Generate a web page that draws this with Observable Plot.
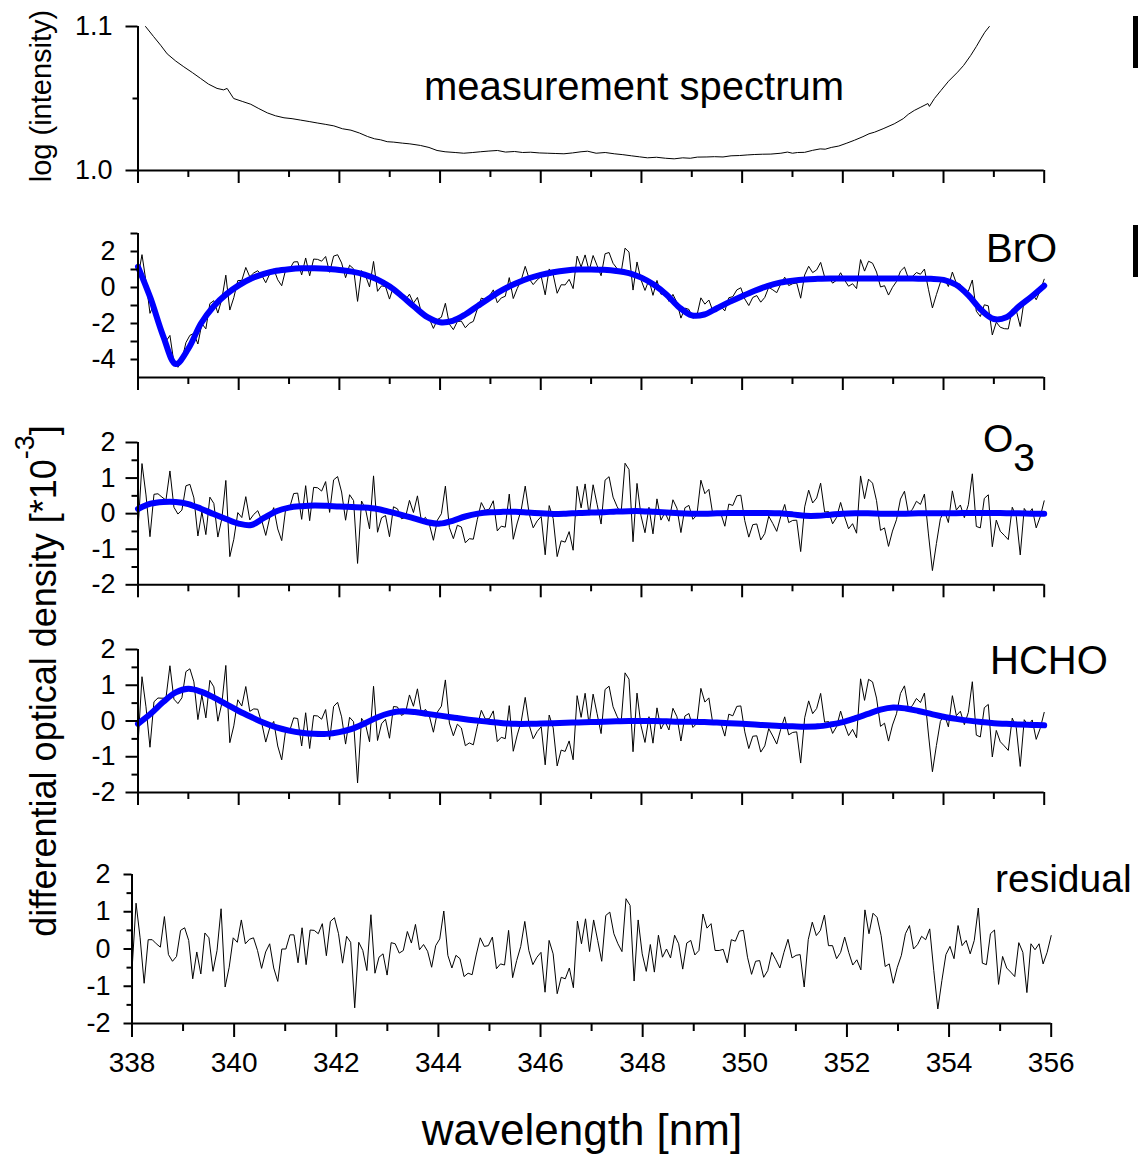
<!DOCTYPE html>
<html><head><meta charset="utf-8">
<script src="https://cdn.jsdelivr.net/npm/d3@7"></script>
<script src="https://cdn.jsdelivr.net/npm/@observablehq/plot@0.6"></script>
<style>
body{margin:0;background:#fff;}
#chart{position:relative;width:1138px;height:1157px;overflow:hidden;font-family:"Liberation Sans",Arial,sans-serif;background:#fff;}
#chart svg{position:absolute;left:0;overflow:visible;}
</style></head><body><div id="chart"></div>
<script>
// ---------- data ----------
const wavelengthRange = [338, 356];
const xTicksMajor = [338, 340, 342, 344, 346, 348, 350, 352, 354, 356];
const xTicksMinor = [339, 341, 343, 345, 347, 349, 351, 353, 355];

// measurement spectrum (log intensity)
const spectrumWavelength = [338.15,338.31,338.45,338.58,338.75,338.91,339.08,339.24,339.40,339.57,339.70,339.77,339.90,340.07,340.24,340.40,340.57,340.73,340.90,341.06,341.23,341.40,341.56,341.73,341.89,342.06,342.23,342.40,342.56,342.70,342.82,342.95,343.08,343.25,343.40,343.61,343.78,343.94,344.10,344.30,344.47,344.65,344.80,344.97,345.14,345.30,345.48,345.64,345.80,345.97,346.14,346.30,346.46,346.63,346.80,346.93,347.10,347.28,347.46,347.63,347.80,347.96,348.12,348.30,348.48,348.65,348.82,348.97,349.11,349.30,349.45,349.62,349.78,349.95,350.10,350.24,350.40,350.57,350.77,350.90,351.00,351.10,351.24,351.40,351.55,351.65,351.77,351.92,352.08,352.23,352.40,352.52,352.63,352.80,353.02,353.20,353.30,353.42,353.55,353.69,353.72,353.82,353.95,354.10,354.28,354.40,354.54,354.65,354.74,354.82,354.91];
const spectrumLogIntensity = [1.100,1.093,1.087,1.081,1.076,1.072,1.068,1.064,1.060,1.057,1.056,1.057,1.050,1.048,1.046,1.043,1.040,1.038,1.0366,1.036,1.035,1.034,1.033,1.032,1.031,1.029,1.028,1.026,1.0236,1.022,1.0213,1.020,1.0197,1.019,1.0185,1.0174,1.016,1.0139,1.013,1.0125,1.012,1.0125,1.013,1.0135,1.0139,1.0128,1.0132,1.0125,1.0127,1.0122,1.012,1.0118,1.0116,1.0122,1.013,1.0134,1.012,1.0125,1.0116,1.011,1.0102,1.0095,1.0088,1.0092,1.0085,1.0081,1.0088,1.0085,1.0093,1.0094,1.0096,1.0094,1.0102,1.0104,1.0108,1.0111,1.0113,1.0114,1.012,1.0128,1.012,1.0125,1.0126,1.014,1.015,1.0148,1.016,1.017,1.019,1.021,1.0235,1.0255,1.0266,1.029,1.0324,1.036,1.039,1.0417,1.044,1.0465,1.0445,1.050,1.0556,1.062,1.0683,1.073,1.0799,1.086,1.0914,1.096,1.100];

// fit residual per detector channel (channels evenly spaced 338..356 nm), units 1e-3
const residual = [
-0.58,1.23,0.30,-0.92,0.25,0.25,0.14,0.05,0.87,-0.15,
-0.33,-0.20,0.50,0.57,0.23,-0.80,-0.08,-0.67,0.43,0.30,
-0.60,-0.04,1.08,-1.02,-0.49,0.30,0.18,0.78,0.14,0.26,
0.30,-0.04,-0.52,-0.08,0.14,-0.51,-0.87,0.00,0.00,0.38,
0.38,-0.37,0.57,-0.42,0.51,0.50,0.41,0.68,-0.18,0.74,
0.84,0.41,-0.38,0.34,0.18,-1.58,0.18,-0.04,-0.58,0.92,
-0.65,-0.22,-0.13,-0.70,0.17,
0.14,-0.11,-0.04,0.47,0.16,0.66,-0.02,0.12,-0.06,-0.49,
0.09,0.27,1.02,-0.17,-0.51,-0.17,-0.26,-0.74,-0.65,-0.69,
-0.16,0.30,0.07,0.09,0.32,-0.53,-0.40,-0.43,0.50,-0.77,
-0.31,0.07,0.74,-0.04,-0.42,-0.22,-0.09,-1.16,0.23,-0.13,
-1.20,-0.76,-0.80,-0.51,-1.04,0.75,0.14,0.81,-0.07,0.78,
0.23,-0.33,0.90,0.99,0.41,0.14,-0.07,1.35,1.17,-0.86,
0.78,-0.13,-0.60,0.12,-0.62,0.37,-0.22,0.00,-0.24,0.37,
0.14,-0.54,0.16,0.23,-0.16,-0.04,0.94,0.56,0.68,-0.04,
-0.04,-0.01,-0.37,
0.25,0.21,0.48,0.50,-0.22,-0.68,-0.33,-0.31,-0.76,-0.58,
-0.09,-0.29,-0.51,-0.09,0.26,-0.24,-0.17,-0.15,-1.02,0.25,
0.72,0.36,0.50,0.91,0.09,0.09,-0.26,-0.09,0.32,-0.09,
-0.43,-0.29,-0.56,1.05,0.41,0.96,0.85,0.36,-0.47,-0.40,
-0.92,-0.49,-0.17,0.41,0.63,0.00,0.12,0.34,0.25,0.54,
-0.58,-1.61,-0.85,-0.15,0.07,-0.26,0.63,0.09,0.23,-0.13,
0.23,1.10,-0.38,-0.42,0.41,0.51,-0.95,-0.20,-0.51,-0.62,
-0.74,0.17,-0.09,-1.17,0.14,-0.02,0.14,-0.40,-0.09,0.36];

// fitted (scaled reference) spectra, sampled every 0.25 nm from 338 to 356
const fitStep = 0.25;
const broFit = [1.15,-0.6,-2.7,-4.25,-3.4,-2.0,-1.05,-0.38,0.12,0.5,0.76,0.93,1.02,1.07,1.07,1.04,0.97,0.88,0.72,0.45,0.05,-0.5,-1.1,-1.65,-1.93,-1.85,-1.5,-1.02,-0.55,-0.12,0.22,0.5,0.7,0.85,0.95,1.0,1.0,0.98,0.92,0.8,0.55,0.15,-0.4,-1.1,-1.55,-1.5,-1.15,-0.8,-0.48,-0.18,0.08,0.27,0.38,0.45,0.48,0.5,0.5,0.5,0.5,0.5,0.5,0.5,0.49,0.48,0.42,0.15,-0.45,-1.25,-1.75,-1.65,-1.05,-0.5,0.1];
const o3Fit = [0.13,0.28,0.33,0.33,0.27,0.14,-0.01,-0.15,-0.28,-0.32,-0.12,0.07,0.17,0.21,0.23,0.22,0.2,0.19,0.17,0.13,0.05,-0.04,-0.14,-0.24,-0.28,-0.2,-0.08,0.0,0.04,0.05,0.05,0.03,0.01,-0.01,0.0,0.02,0.03,0.04,0.06,0.07,0.07,0.05,0.03,0.01,0.0,0.0,0.01,0.02,0.02,0.02,0.02,0.01,-0.02,-0.06,-0.06,-0.03,0.0,0.01,0.01,0.0,0.0,0.0,0.01,0.01,0.01,0.01,0.02,0.02,0.02,0.01,0.01,0.0,0.0];
const hchoFit = [-0.08,0.2,0.53,0.8,0.9,0.82,0.66,0.47,0.28,0.11,-0.05,-0.18,-0.27,-0.33,-0.36,-0.36,-0.31,-0.22,-0.07,0.1,0.22,0.27,0.25,0.2,0.15,0.1,0.05,0.01,-0.03,-0.06,-0.08,-0.08,-0.07,-0.06,-0.05,-0.04,-0.03,-0.02,-0.01,0.0,0.0,0.0,-0.01,-0.02,-0.02,-0.03,-0.04,-0.06,-0.08,-0.1,-0.12,-0.14,-0.15,-0.16,-0.15,-0.1,-0.03,0.08,0.2,0.32,0.38,0.35,0.28,0.2,0.12,0.06,0.01,-0.03,-0.06,-0.08,-0.1,-0.11,-0.12];

const panelLabels = ["measurement spectrum", "BrO", "O", "HCHO", "residual"];

// ---------- derived tables ----------
const nCh = residual.length;
const channelWl = residual.map((_, i) => wavelengthRange[0] + i * (wavelengthRange[1] - wavelengthRange[0]) / (nCh - 1));
const fitTable = fit => fit.map((v, i) => ({wl: wavelengthRange[0] + i * fitStep, v}));
function fitAtChannel(fit, wl) {
  const t = (wl - wavelengthRange[0]) / fitStep;
  const i = Math.min(Math.max(Math.floor(t), 0), fit.length - 2);
  const f = t - i;
  return fit[i] * (1 - f) + fit[i + 1] * f;
}
// the thin black trace in each species panel = fitted reference + residual
const measuredTable = fit => residual.map((r, i) => ({wl: channelWl[i], v: fitAtChannel(fit, channelWl[i]) + r}));
const residualTable = residual.map((r, i) => ({wl: channelWl[i], v: r}));
const spectrumTable = spectrumWavelength.map((w, i) => ({wl: w, v: spectrumLogIntensity[i]}));

// ---------- drawing ----------
const chart = document.getElementById("chart");
const FONT = '"Liberation Sans", Arial, sans-serif';

function panel(cfg) {
  const mt = 20, mb = 70;
  const h = (cfg.bottom - cfg.top) + mt + mb;
  const marks = [
    ...cfg.marks,
    Plot.ruleX([wavelengthRange[0]], {stroke: "black", strokeWidth: 2}),
    Plot.ruleY([cfg.yDomain[0]], {stroke: "black", strokeWidth: 2}),
    Plot.axisY(cfg.yMajor, {anchor: "left", tickSize: cfg.yMajorSize, tickPadding: cfg.yPad - cfg.yMajorSize,
      tickFormat: cfg.yFormat, fontSize: 27, strokeWidth: 2, label: null, fill: "black"}),
    Plot.axisY(cfg.yMinor, {anchor: "left", tickSize: cfg.yMinorSize, tickFormat: () => "", strokeWidth: 2, label: null}),
    Plot.axisX(xTicksMajor, {anchor: "bottom", tickSize: cfg.xMajorSize, tickPadding: 15,
      tickFormat: cfg.xLabels ? (d => String(d)) : (() => ""), fontSize: 28, strokeWidth: 2, label: null, fill: "black"}),
    Plot.axisX(xTicksMinor, {anchor: "bottom", tickSize: cfg.xMinorSize, tickFormat: () => "", strokeWidth: 2, label: null})
  ];
  const svg = Plot.plot({
    width: 1138, height: h,
    marginTop: mt, marginBottom: mb, marginLeft: cfg.left, marginRight: 1138 - cfg.right,
    x: {domain: wavelengthRange},
    y: {domain: cfg.yDomain},
    style: {background: "transparent", fontFamily: FONT, fontSize: "27px", color: "black", overflow: "visible"},
    marks
  });
  svg.style.top = (cfg.top - mt) + "px";
  chart.appendChild(svg);
}

const blue = "#0000ff";
const intFmt = d => String(d);

panel({top: 26, bottom: 170, left: 137.5, right: 1043.7, yDomain: [1.0, 1.1],
  yMajor: [1.0, 1.1], yMinor: [1.05], yMajorSize: 12, yMinorSize: 5, yPad: 25.5, yFormat: d => d.toFixed(1),
  xMajorSize: 13, xMinorSize: 7, xLabels: false,
  marks: [Plot.line(spectrumTable, {x: "wl", y: "v", stroke: "black", strokeWidth: 1})]});

panel({top: 233, bottom: 377, left: 137.5, right: 1043.7, yDomain: [-5, 3],
  yMajor: [-4, -2, 0, 2], yMinor: [-3, -1, 1, 3], yMajorSize: 7, yMinorSize: 7, yPad: 22.5, yFormat: intFmt,
  xMajorSize: 13, xMinorSize: 7, xLabels: false,
  marks: [
    Plot.line(measuredTable(broFit), {x: "wl", y: "v", stroke: "black", strokeWidth: 1}),
    Plot.line(fitTable(broFit), {x: "wl", y: "v", stroke: blue, strokeWidth: 6, curve: "catmull-rom", strokeLinejoin: "round", strokeLinecap: "round"})
  ]});

panel({top: 441.7, bottom: 584, left: 137.5, right: 1043.7, yDomain: [-2, 2],
  yMajor: [-2, -1, 0, 1, 2], yMinor: [-1.5, -0.5, 0.5, 1.5], yMajorSize: 12, yMinorSize: 6, yPad: 22.5, yFormat: intFmt,
  xMajorSize: 13, xMinorSize: 7, xLabels: false,
  marks: [
    Plot.line(measuredTable(o3Fit), {x: "wl", y: "v", stroke: "black", strokeWidth: 1}),
    Plot.line(fitTable(o3Fit), {x: "wl", y: "v", stroke: blue, strokeWidth: 6, curve: "catmull-rom", strokeLinejoin: "round", strokeLinecap: "round"})
  ]});

panel({top: 649, bottom: 792, left: 137.5, right: 1043.7, yDomain: [-2, 2],
  yMajor: [-2, -1, 0, 1, 2], yMinor: [-1.5, -0.5, 0.5, 1.5], yMajorSize: 12, yMinorSize: 6, yPad: 22.5, yFormat: intFmt,
  xMajorSize: 13, xMinorSize: 7, xLabels: false,
  marks: [
    Plot.line(measuredTable(hchoFit), {x: "wl", y: "v", stroke: "black", strokeWidth: 1}),
    Plot.line(fitTable(hchoFit), {x: "wl", y: "v", stroke: blue, strokeWidth: 6, curve: "catmull-rom", strokeLinejoin: "round", strokeLinecap: "round"})
  ]});

panel({top: 874, bottom: 1023, left: 131.5, right: 1050.7, yDomain: [-2, 2],
  yMajor: [-2, -1, 0, 1, 2], yMinor: [-1.5, -0.5, 0.5, 1.5], yMajorSize: 8, yMinorSize: 5, yPad: 21.5, yFormat: intFmt,
  xMajorSize: 14, xMinorSize: 8, xLabels: true,
  marks: [Plot.line(residualTable, {x: "wl", y: "v", stroke: "black", strokeWidth: 1})]});

// ---------- text overlay ----------
const NS = "http://www.w3.org/2000/svg";
const ov = document.createElementNS(NS, "svg");
ov.setAttribute("width", 1138); ov.setAttribute("height", 1157);
ov.style.top = "0px";
ov.setAttribute("font-family", FONT);
ov.innerHTML = `
  <text x="634" y="100" font-size="40" text-anchor="middle">${panelLabels[0]}</text>
  <text x="986" y="262" font-size="40">${panelLabels[1]}</text>
  <text x="983" y="452" font-size="39"><tspan>${panelLabels[2]}</tspan><tspan dy="19">3</tspan></text>
  <text x="990" y="674" font-size="40">${panelLabels[3]}</text>
  <text x="995" y="892" font-size="39">${panelLabels[4]}</text>
  <text transform="translate(51,96) rotate(-90)" font-size="29" text-anchor="middle">log (intensity)</text>
  <text transform="translate(56,681) rotate(-90)" font-size="36" text-anchor="middle">differential optical density [*10<tspan font-size="27" dy="-22">-3</tspan><tspan dy="22">]</tspan></text>
  <text x="582" y="1145" font-size="44" text-anchor="middle">wavelength [nm]</text>
  <rect x="1133" y="16" width="6" height="52" fill="black"></rect>
  <rect x="1133" y="225" width="6" height="52" fill="black"></rect>
`;
chart.appendChild(ov);
</script>
</body></html>
